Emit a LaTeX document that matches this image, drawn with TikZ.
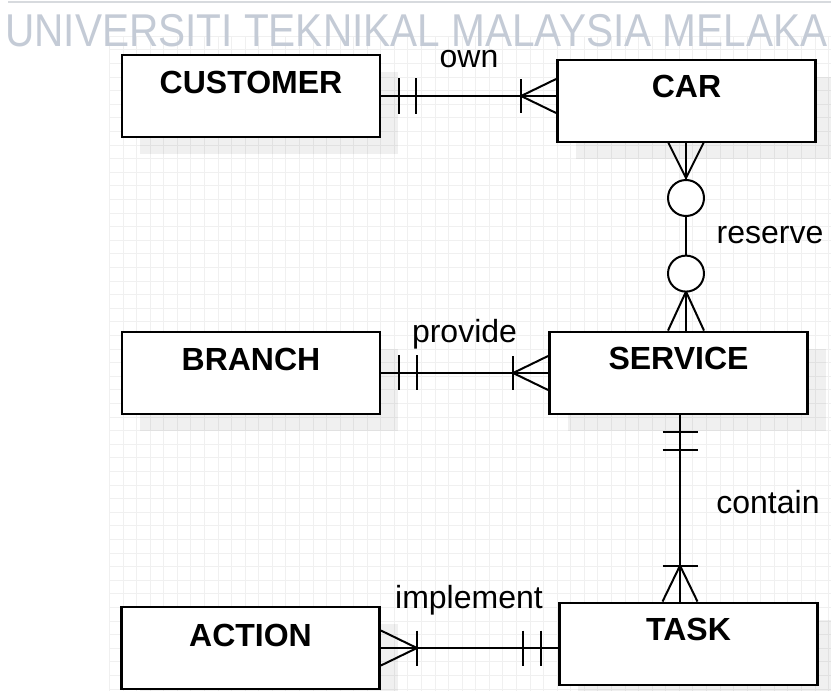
\documentclass[tikz,border=0pt]{standalone}
\usepackage{fontspec}
\setmainfont{Liberation Sans}
\usetikzlibrary{calc,shadows}
\definecolor{wmark}{RGB}{196,203,214}
\definecolor{gridc}{RGB}{240,240,240}
\definecolor{rule}{RGB}{215,218,222}
\begin{document}
\begin{tikzpicture}[x=1pt,y=-1pt,
  entity/.style={draw=black, line width=2.8pt, fill=white, inner sep=0pt,
    minimum width=258pt, minimum height=82pt,
    drop shadow={shadow xshift=18pt, shadow yshift=-17pt, fill=black, opacity=0.06}},
  etitle/.style={anchor=base, font=\fontsize{32}{36}\selectfont\bfseries, inner sep=0pt},
  rlabel/.style={anchor=base, font=\fontsize{32}{36}\selectfont, inner sep=0pt},
  rel/.style={draw=black, line width=2pt},
  ocircle/.style={circle, draw=black, line width=2pt, fill=white, minimum size=36pt, inner sep=0pt},
  gridline/.style={draw=gridc, line width=0.7pt},
  wmtext/.style={anchor=base west, text=wmark, inner sep=0pt,
    font=\fontsize{46}{50}\selectfont, xscale=0.882}
]
\useasboundingbox (0,0) rectangle (831,691);
\fill[white] (0,0) rectangle (831,691);

% background grid
\foreach \i in {0,...,53}
  \draw[gridline] ({109.3+13.57*\i},36) -- ({109.3+13.57*\i},691);
\foreach \j in {0,...,48}
  \draw[gridline] (109.3,{36.2+13.6*\j}) -- (831,{36.2+13.6*\j});

% header
\draw[rule, line width=1.6pt] (8,2) -- (831,2);
\node[wmtext] (wm) at (5,46) {UNIVERSITI TEKNIKAL MALAYSIA MELAKA};

% entities
\node[entity] (cust)    at (251,96)    {};
\node[entity] (car)     at (686.5,101) {};
\node[entity] (branch)  at (251,373)   {};
\node[entity] (service) at (678.5,373) {};
\node[entity] (action)  at (250.5,648) {};
\node[entity] (task)    at (688.5,644) {};

\node[etitle] (custT)    at (251,93)   {CUSTOMER};
\node[etitle] (carT)     at (686.5,97) {CAR};
\node[etitle] (branchT)  at (251,370)  {BRANCH};
\node[etitle] (serviceT) at (678.5,369){SERVICE};
\node[etitle] (actionT)  at (250.5,646){ACTION};
\node[etitle] (taskT)    at (688.5,640){TASK};

% own: CUSTOMER (one and only one) -- CAR (one or many)
\coordinate (o1) at (cust.east);
\coordinate (o2) at (cust.east -| car.west);
\draw[rel] (o1) -- (o2);
\draw[rel] ($(o1)+(18,-18)$) -- ($(o1)+(18,18)$);
\draw[rel] ($(o1)+(35,-18)$) -- ($(o1)+(35,18)$);
\draw[rel] ($(o2)+(-35,-17)$) -- ($(o2)+(-35,17)$);
\draw[rel] ($(o2)+(0,-17)$) -- ($(o2)+(-35,0)$) -- ($(o2)+(0,17)$);
\node[rlabel] (ownL) at (469,67) {own};

% reserve: CAR (zero or many) -- SERVICE (zero or many)
\coordinate (r1) at (686,142);
\coordinate (r2) at (r1 |- service.north);
\draw[rel] (r1) -- (r2);
\draw[rel] ($(r1)+(-18,0)$) -- ($(r1)+(0,36)$) -- ($(r1)+(18,0)$);
\draw[rel] ($(r2)+(-18,0)$) -- ($(r2)+(0,-39)$) -- ($(r2)+(18,0)$);
\node[ocircle] (c1) at ($(r1)+(0,56)$) {};
\node[ocircle] (c2) at ($(r2)+(0,-57)$) {};
\node[rlabel] (reserveL) at (770,243) {reserve};

% provide: BRANCH (one and only one) -- SERVICE (one or many)
\coordinate (p1) at (branch.east);
\coordinate (p2) at (branch.east -| service.west);
\draw[rel] (p1) -- (p2);
\draw[rel] ($(p1)+(18,-18)$) -- ($(p1)+(18,17)$);
\draw[rel] ($(p1)+(36,-18)$) -- ($(p1)+(36,17)$);
\draw[rel] ($(p2)+(-35,-17)$) -- ($(p2)+(-35,17)$);
\draw[rel] ($(p2)+(0,-17)$) -- ($(p2)+(-35,0)$) -- ($(p2)+(0,17)$);
\node[rlabel] (provideL) at (464.5,342) {provide};

% contain: SERVICE (one and only one) -- TASK (one or many)
\coordinate (q1) at (680,414);
\coordinate (q2) at (q1 |- task.north);
\draw[rel] (q1) -- (q2);
\draw[rel] ($(q1)+(-17.5,18)$) -- ($(q1)+(17.5,18)$);
\draw[rel] ($(q1)+(-17.5,36)$) -- ($(q1)+(17.5,36)$);
\draw[rel] ($(q2)+(-17.5,-36)$) -- ($(q2)+(17.5,-36)$);
\draw[rel] ($(q2)+(-17.5,0)$) -- ($(q2)+(0,-36)$) -- ($(q2)+(17.5,0)$);
\node[rlabel] (containL) at (768,513) {contain};

% implement: ACTION (one or many) -- TASK (one and only one)
\coordinate (i1) at (action.east);
\coordinate (i2) at (action.east -| task.west);
\draw[rel] (i1) -- (i2);
\draw[rel] ($(i1)+(0,-17.5)$) -- ($(i1)+(36,0)$) -- ($(i1)+(0,17.5)$);
\draw[rel] ($(i1)+(36,-17.5)$) -- ($(i1)+(36,17.5)$);
\draw[rel] ($(i2)+(-35,-17.5)$) -- ($(i2)+(-35,17.5)$);
\draw[rel] ($(i2)+(-17,-17.5)$) -- ($(i2)+(-17,17.5)$);
\node[rlabel] (implementL) at (469,608) {implement};
\end{tikzpicture}
\end{document}
